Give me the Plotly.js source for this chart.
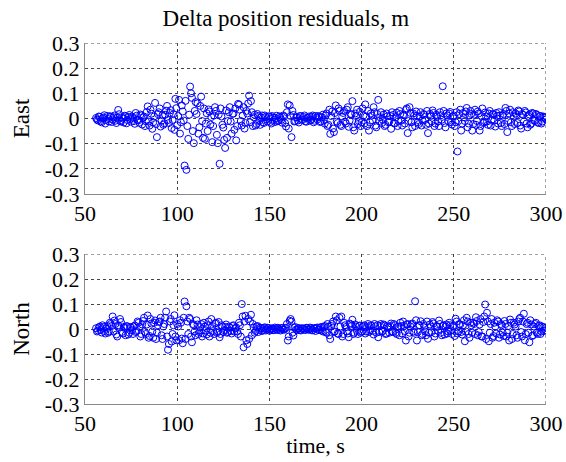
<!DOCTYPE html>
<html>
<head>
<meta charset="utf-8">
<script src="https://cdn.plot.ly/plotly-3.0.1.min.js"></script>
<style>html,body{margin:0;padding:0;background:#fff;}#chart{width:566px;height:462px;}</style>
</head>
<body>
<div id="chart"></div>
<script>
// time, s (whole seconds)
var time = [56,57,58,59,60,61,62,63,64,65,66,67,68,69,70,71,72,73,74,75,
76,77,78,79,80,81,82,83,84,85,86,87,88,89,90,91,92,93,94,95,
96,97,98,99,100,101,102,103,104,105,106,107,108,109,110,111,112,113,114,115,
116,117,118,119,120,121,122,123,124,125,126,127,128,129,130,131,132,133,134,135,
136,137,138,139,140,141,142,143,144,145,146,147,148,149,150,151,152,153,154,155,
156,157,158,159,160,161,162,163,164,165,166,167,168,169,170,171,172,173,174,175,
176,177,178,179,180,181,182,183,184,185,186,187,188,189,190,191,192,193,194,195,
196,197,198,199,200,201,202,203,204,205,206,207,208,209,210,211,212,213,214,215,
216,217,218,219,220,221,222,223,224,225,226,227,228,229,230,231,232,233,234,235,
236,237,238,239,240,241,242,243,244,245,246,247,248,249,250,251,252,253,254,255,
256,257,258,259,260,261,262,263,264,265,266,267,268,269,270,271,272,273,274,275,
276,277,278,279,280,281,282,283,284,285,286,287,288,289,290,291,292,293,294,295,
296,297,298,299,300];

// time, s (half seconds)
var timeHalf = [56.5,57.5,58.5,59.5,60.5,61.5,62.5,63.5,64.5,65.5,66.5,67.5,68.5,69.5,70.5,71.5,72.5,73.5,74.5,75.5,
76.5,77.5,78.5,79.5,80.5,81.5,82.5,83.5,84.5,85.5,86.5,87.5,88.5,89.5,90.5,91.5,92.5,93.5,94.5,95.5,
96.5,97.5,98.5,99.5,100.5,101.5,102.5,103.5,104.5,105.5,106.5,107.5,108.5,109.5,110.5,111.5,112.5,113.5,114.5,115.5,
116.5,117.5,118.5,119.5,120.5,121.5,122.5,123.5,124.5,125.5,126.5,127.5,128.5,129.5,130.5,131.5,132.5,133.5,134.5,135.5,
136.5,137.5,138.5,139.5,140.5,141.5,142.5,143.5,144.5,145.5,146.5,147.5,148.5,149.5,150.5,151.5,152.5,153.5,154.5,155.5,
156.5,157.5,158.5,159.5,160.5,161.5,162.5,163.5,164.5,165.5,166.5,167.5,168.5,169.5,170.5,171.5,172.5,173.5,174.5,175.5,
176.5,177.5,178.5,179.5,180.5,181.5,182.5,183.5,184.5,185.5,186.5,187.5,188.5,189.5,190.5,191.5,192.5,193.5,194.5,195.5,
196.5,197.5,198.5,199.5,200.5,201.5,202.5,203.5,204.5,205.5,206.5,207.5,208.5,209.5,210.5,211.5,212.5,213.5,214.5,215.5,
216.5,217.5,218.5,219.5,220.5,221.5,222.5,223.5,224.5,225.5,226.5,227.5,228.5,229.5,230.5,231.5,232.5,233.5,234.5,235.5,
236.5,237.5,238.5,239.5,240.5,241.5,242.5,243.5,244.5,245.5,246.5,247.5,248.5,249.5,250.5,251.5,252.5,253.5,254.5,255.5,
256.5,257.5,258.5,259.5,260.5,261.5,262.5,263.5,264.5,265.5,266.5,267.5,268.5,269.5,270.5,271.5,272.5,273.5,274.5,275.5,
276.5,277.5,278.5,279.5,280.5,281.5,282.5,283.5,284.5,285.5,286.5,287.5,288.5,289.5,290.5,291.5,292.5,293.5,294.5,295.5,
296.5,297.5,298.5,299.5];

// East residuals, m (whole seconds)
var east = [.002,-.008,.006,-.015,.004,-.02,.010,-.012,.007,-.004,.012,-.018,.034,-.009,.005,-.016,.009,-.006,.014,-.013,
.003,-.021,.011,-.007,.016,-.024,.008,-.011,.048,-.028,.019,-.015,.062,-.074,.025,-.032,.013,-.019,.031,-.006,
.022,-.038,.017,.078,-.027,.074,-.015,.028,-.187,-.204,-.081,.127,.082,-.098,.065,.060,-.035,.087,-.077,-.081,
.021,.036,-.024,-.094,.012,.030,-.098,-.180,.008,-.036,-.117,-.077,.025,-.012,.018,-.045,-.087,.058,.035,-.028,
.045,-.018,.020,.091,.069,-.030,.015,-.022,.010,-.025,.012,-.018,.006,-.012,.009,-.020,.004,-.014,.011,-.008,
.003,-.017,.008,-.032,.056,.052,-.074,.014,-.010,.005,-.016,.009,-.006,.012,-.013,.004,-.009,.007,-.015,.010,
-.004,.006,-.012,.015,-.020,.020,-.025,-.061,.028,-.054,.052,-.018,.030,-.030,.022,-.012,.035,-.033,.018,.069,
-.048,.010,-.022,.027,-.015,.012,.056,-.030,-.048,.020,-.008,.025,-.035,.074,.005,-.018,.016,-.025,.009,-.012,
-.041,.014,-.020,.023,-.010,.018,-.028,.012,.034,-.058,.045,-.015,.020,-.030,.010,-.022,.025,-.008,.015,-.025,
-.058,.018,-.012,.022,-.020,.008,-.030,.013,.128,-.018,.020,-.010,.026,-.024,.012,-.015,-.131,.018,-.048,.022,
-.010,.042,-.020,.030,-.048,.015,-.025,.028,-.048,.010,-.018,.024,-.012,.020,-.028,.016,-.008,.022,-.020,.012,
-.030,.018,.042,-.054,.020,-.015,.025,-.022,.014,.032,-.028,.018,-.012,.024,-.035,.016,-.020,.020,-.010,.015,
-.018,.010,-.012,.006,-.004];

// East residuals, m (half seconds)
var eastHalf = [-.004,.008,-.011,.001,.013,-.006,-.002,.009,-.014,.005,-.009,.003,.017,-.012,.000,.011,-.019,.006,-.003,.008,
-.010,.022,-.005,-.017,.012,.004,-.030,.026,-.012,.035,-.041,.008,-.022,.018,.040,-.009,-.025,.015,.050,-.018,
.033,-.006,-.045,.041,.010,-.060,.052,-.008,.070,-.030,.015,.100,-.050,.030,.018,-.060,.050,-.010,.040,-.020,
-.050,.028,.006,-.030,.045,-.065,.015,.040,-.025,-.085,.032,-.010,.045,-.060,.020,.040,-.030,.055,-.010,.012,
-.040,.030,.060,-.015,.025,.005,-.028,.018,-.010,.004,-.015,.012,-.003,.007,-.014,.010,-.006,.002,-.011,.008,
-.005,.012,-.018,.025,-.040,.010,.030,-.012,.004,-.008,.010,-.003,.006,-.011,.002,.008,-.005,.012,-.009,.003,
.010,-.014,.005,-.006,.012,-.030,.035,.010,-.040,.022,-.012,.040,-.025,.008,.030,-.020,.045,-.008,.015,-.035,
.020,.035,-.010,-.030,.040,-.020,.008,.030,-.015,.012,.045,-.028,.018,-.010,.025,-.005,-.030,.020,-.015,.010,
.025,-.018,.005,-.030,.030,-.008,.015,-.020,.040,-.010,.022,-.035,.012,.028,-.015,.008,-.028,.018,-.005,.030,
-.020,.010,.032,-.030,.015,-.012,.025,-.005,.030,-.035,.012,.020,-.015,.008,-.030,.025,-.010,.035,-.020,.005,
.028,-.035,.012,.018,-.022,.035,-.010,.020,-.030,.040,-.015,.008,-.025,.030,-.005,.018,-.032,.010,.025,-.018,
.012,-.022,.030,-.010,.035,-.030,.008,.020,-.018,.028,-.040,.015,.030,-.020,.010,-.025,.022,-.008,.018,-.015,
.010,-.020,.008,.002];

// North residuals, m (whole seconds)
var north = [.003,-.006,.010,-.014,.008,-.018,.012,-.010,.020,.050,.034,-.022,.015,.040,-.012,.008,-.025,.010,-.015,.006,
-.020,.014,-.008,.025,-.030,.018,.045,-.020,.054,-.028,.022,-.035,.034,-.015,.028,.045,-.040,.020,.070,-.083,
.030,-.050,.015,-.030,.020,-.045,.025,-.057,.110,.091,-.020,.040,-.053,.015,-.025,.018,-.012,.020,-.018,.010,
-.022,.030,-.015,.012,-.020,.025,-.010,-.033,.015,-.012,.008,-.015,.010,-.008,.012,-.010,.006,-.020,.015,.100,
-.073,.053,-.060,-.040,.057,.020,-.015,.010,-.012,.006,-.008,.004,-.006,.005,-.007,.003,-.005,.006,-.004,.002,
-.006,.004,-.003,.005,-.046,.033,.030,-.026,.008,-.005,.004,-.006,.003,-.004,.005,-.003,.006,-.005,.004,-.008,
.006,-.004,.008,-.010,.012,-.015,.010,-.040,.020,-.012,.050,-.018,.045,.050,-.020,.015,-.010,-.033,.018,.037,
-.015,.010,-.020,.014,-.010,.012,-.018,.008,-.012,.015,-.008,.020,-.015,-.033,.012,-.010,.018,-.020,.010,-.015,
.022,-.012,.015,-.020,.010,.025,-.018,.012,-.046,.020,-.015,.018,-.010,.111,-.046,.015,.031,-.020,.012,-.025,
-.039,.018,-.012,.022,-.018,.010,.034,-.015,.012,-.022,.018,-.010,.015,-.020,.012,.041,-.018,.020,-.012,.015,
-.049,.045,-.020,.025,-.015,.020,.047,-.025,.018,-.030,.028,.098,.065,-.049,.020,-.035,.025,-.018,.030,-.022,
.015,-.028,.020,-.015,-.046,.025,-.020,.018,-.025,.030,.045,-.030,.061,-.020,.025,-.053,.018,-.025,.020,-.015,
.012,-.020,.010,-.008,.004];

// North residuals, m (half seconds)
var northHalf = [-.010,.006,-.004,.015,-.008,.002,-.015,.025,.012,-.010,.020,-.030,.008,.028,-.018,.004,.012,-.022,.008,-.005,
.010,-.012,.030,.008,-.020,.032,-.012,.018,-.035,.040,-.010,.025,-.040,.015,.030,-.025,.010,.045,-.030,-.060,
.040,-.020,.055,-.045,.010,.035,-.038,.045,-.040,.030,.045,-.030,.020,-.010,.035,-.020,.008,-.030,.025,-.005,
.015,-.030,.040,-.008,.022,-.015,.028,-.020,.010,-.005,.018,-.012,.006,-.018,.015,.002,-.010,.025,-.030,.050,
.030,-.045,.040,.030,-.025,.005,-.008,.012,-.004,.003,-.005,.007,-.002,.004,-.003,.001,-.004,.002,.005,-.003,
.004,-.002,.003,.020,-.030,.040,-.015,.005,-.002,.003,-.004,.002,.001,-.003,.004,-.002,.003,-.005,.002,.004,
-.003,.005,-.006,.008,-.012,.020,-.025,.012,.030,-.010,.035,-.020,.010,-.030,.025,.008,-.018,.022,.012,-.020,
.018,-.008,.012,-.015,.008,.015,-.010,.020,-.006,.012,-.022,.010,.015,-.012,.020,-.008,.014,-.018,.006,.012,
-.010,.020,-.015,.008,-.025,.012,.030,-.008,.018,-.030,.010,.022,-.015,.035,-.012,.015,-.025,.020,-.010,.030,
-.015,.010,.028,-.030,.012,-.008,.020,-.025,.015,.010,-.018,.025,-.005,.012,-.028,.030,-.010,.018,-.022,.035,
-.010,.030,-.035,.015,.025,-.020,.032,-.012,.040,-.030,.050,-.040,.030,-.015,.040,-.028,.010,.035,-.035,.020,
-.015,.032,-.030,.012,.038,-.040,.025,.010,-.035,.040,-.012,.030,-.045,.020,-.015,.035,-.028,.010,.025,-.020,
.015,-.010,.006,-.005];

var xTicks = [50,100,150,200,250,300];
var yTicks = [-0.3,-0.2,-0.1,0,0.1,0.2,0.3];
var yTickText = ['-0.3','-0.2','-0.1','0','0.1','0.2','0.3'];

var FONT = 'Liberation Serif, Times New Roman, serif';
var marker = {symbol:'circle-open', size:7, color:'#0000ff', line:{width:1, color:'#0000ff'}};

var traces = [
  {x:time.concat(timeHalf), y:east.concat(eastHalf), type:'scatter', mode:'markers', marker:marker, xaxis:'x', yaxis:'y', showlegend:false},
  {x:time.concat(timeHalf), y:north.concat(northHalf), type:'scatter', mode:'markers', marker:marker, xaxis:'x2', yaxis:'y2', showlegend:false}
];

var GRID = '#444';
function xa(anchor, title){
  var a = {anchor:anchor, range:[50,300], tickvals:xTicks, ticktext:xTicks.map(String),
    showgrid:true, gridcolor:GRID, griddash:'dot', gridwidth:1, zeroline:false,
    showline:true, linecolor:'#888', linewidth:1, ticks:'',
    tickfont:{family:FONT, size:22, color:'#000'}};
  if(title) a.title = {text:title, font:{family:FONT, size:22, color:'#000'}, standoff:2};
  return a;
}
function ya(anchor, domain, title){
  return {anchor:anchor, domain:domain, range:[-0.3,0.3], tickvals:yTicks, ticktext:yTickText,
    showgrid:true, gridcolor:GRID, griddash:'dot', gridwidth:1, zeroline:false,
    showline:true, linecolor:'#888', linewidth:1, ticks:'',
    tickfont:{family:FONT, size:22, color:'#000'},
    title:{text:title, font:{family:FONT, size:23, color:'#000'}, standoff:8}};
}

// dotted edge grid lines (top at 0.3, right at 300), which Plotly omits on the plot border
function edgeShapes(xr, yr){
  return [
    {type:'line', xref:xr, yref:yr, x0:50, x1:300, y0:0.3, y1:0.3, line:{color:GRID, width:1, dash:'dot'}, layer:'below'},
    {type:'line', xref:xr, yref:yr, x0:300, x1:300, y0:-0.3, y1:0.3, line:{color:GRID, width:1, dash:'dot'}, layer:'below'}
  ];
}

var layout = {
  width:566, height:462,
  margin:{l:85, r:20, t:43, b:58},
  paper_bgcolor:'#fff', plot_bgcolor:'#fff',
  title:{text:'Delta position residuals, m', font:{family:FONT, size:23, color:'#000'}, x:0.505, xanchor:'center', y:0.962, yanchor:'middle'},
  xaxis: xa('y', null),
  yaxis: ya('x', [0.5817,1], 'East'),
  xaxis2: xa('y2', 'time, s'),
  yaxis2: ya('x2', [0,0.4155], 'North'),
  shapes: edgeShapes('x','y').concat(edgeShapes('x2','y2')),
  showlegend:false
};

Plotly.newPlot('chart', traces, layout, {displayModeBar:false, staticPlot:true});
</script>
</body>
</html>
